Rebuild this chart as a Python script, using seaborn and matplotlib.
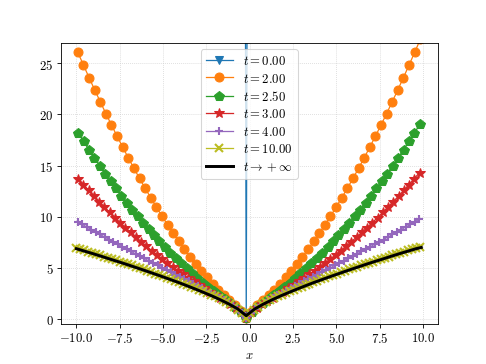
import numpy as np
import matplotlib
matplotlib.use("Agg")
import matplotlib.pyplot as plt
import seaborn as sns

# ---------------- data ----------------
blue_x = [-10.0, -0.52, -0.2, 0.12, 10.0]
blue_y = [200.0, 200.0, 0.0, 200.0, 200.0]

orange_x = np.linspace(-9.92, 9.844, 62)
orange_y = [26.09, 24.85, 23.62, 22.42, 21.25, 20.09, 18.97, 17.87, 16.80, 15.75,
            14.73, 13.74, 12.77, 11.84, 10.93, 10.04, 9.19, 8.37, 7.57, 6.81,
            6.07, 5.37, 4.69, 4.05, 3.44, 2.86, 2.31, 1.80, 1.31, 0.75,
            0.10,
            0.75, 1.31, 1.80, 2.31, 2.86, 3.44, 4.05, 4.69, 5.37, 6.07,
            6.81, 7.57, 8.37, 9.19, 10.04, 10.93, 11.84, 12.77, 13.74, 14.73,
            15.75, 16.80, 17.87, 18.97, 20.09, 21.25, 22.42, 23.62, 24.85, 26.09,
            27.36]

green_x = np.linspace(-9.903, 9.816, 64)
green_y = [18.19, 17.36, 16.55, 15.76, 14.98, 14.22, 13.48, 12.76, 12.05, 11.36,
           10.69, 10.04, 9.40, 8.78, 8.18, 7.60, 7.03, 6.48, 5.95, 5.44,
           4.94, 4.46, 4.00, 3.55, 3.12, 2.71, 2.31, 1.92, 1.55, 1.12, 0.68,
           0.10,
           0.68, 1.12, 1.55, 1.92, 2.31, 2.71, 3.12, 3.55, 4.00, 4.46,
           4.94, 5.44, 5.95, 6.48, 7.03, 7.60, 8.18, 8.78, 9.40, 10.04,
           10.69, 11.36, 12.05, 12.76, 13.48, 14.22, 14.98, 15.76, 16.55, 17.36,
           18.19, 19.03]

red_x = np.linspace(-9.896, 9.799, 66)
red_y = [13.73, 13.14, 12.57, 12.01, 11.47, 10.94, 10.41, 9.90, 9.41, 8.92,
         8.45, 7.99, 7.54, 7.10, 6.67, 6.26, 5.86, 5.46, 5.08, 4.71,
         4.34, 3.99, 3.65, 3.32, 2.98, 2.66, 2.35, 2.05, 1.73, 1.42, 1.05, 0.65,
         0.10,
         0.65, 1.05, 1.42, 1.73, 2.05, 2.35, 2.66, 2.98, 3.32, 3.65,
         3.99, 4.34, 4.71, 5.08, 5.46, 5.86, 6.26, 6.67, 7.10, 7.54,
         7.99, 8.45, 8.92, 9.41, 9.90, 10.41, 10.94, 11.47, 12.01, 12.57,
         13.14, 13.73, 14.31]

purple_x = np.linspace(-9.909, 9.7645, 78)
purple_y = [9.48, 9.23, 8.98, 8.73, 8.49, 8.25, 8.01, 7.76, 7.53, 7.29,
            7.05, 6.82, 6.59, 6.36, 6.13, 5.90, 5.67, 5.44, 5.22, 4.99,
            4.77, 4.55, 4.32, 4.10, 3.88, 3.65, 3.43, 3.21, 2.98, 2.75,
            2.53, 2.29, 2.06, 1.81, 1.57, 1.30, 0.98, 0.60,
            0.10,
            0.60, 0.98, 1.30, 1.57, 1.81, 2.06, 2.29, 2.53, 2.75, 2.98,
            3.21, 3.43, 3.65, 3.88, 4.10, 4.32, 4.55, 4.77, 4.99, 5.22,
            5.44, 5.67, 5.90, 6.13, 6.36, 6.59, 6.82, 7.05, 7.29, 7.53,
            7.76, 8.01, 8.25, 8.49, 8.73, 8.98, 9.23, 9.48, 9.73]

yellow_x = np.linspace(-10.004, 9.832, 88)
yellow_y = [6.92, 6.81, 6.69, 6.57, 6.45, 6.33, 6.21, 6.09, 5.97, 5.85,
            5.72, 5.60, 5.47, 5.35, 5.22, 5.09, 4.96, 4.83, 4.70, 4.56,
            4.43, 4.29, 4.15, 4.02, 3.88, 3.73, 3.59, 3.44, 3.29, 3.14,
            2.99, 2.83, 2.67, 2.51, 2.35, 2.18, 2.00, 1.82, 1.63, 1.42,
            1.16, 0.88, 0.55,
            0.10,
            0.55, 0.88, 1.16, 1.42, 1.63, 1.82, 2.00, 2.18, 2.35, 2.51,
            2.67, 2.83, 2.99, 3.14, 3.29, 3.44, 3.59, 3.73, 3.88, 4.02,
            4.15, 4.29, 4.43, 4.56, 4.70, 4.83, 4.96, 5.09, 5.22, 5.35,
            5.47, 5.60, 5.72, 5.85, 5.97, 6.09, 6.21, 6.33, 6.45, 6.57,
            6.69, 6.81, 6.92, 7.04]

black_x = list(np.linspace(-10.0, 9.6, 41)) + [9.9]
black_y = [6.86, 6.61, 6.36, 6.10, 5.83, 5.57, 5.30, 5.02, 4.74, 4.45,
           4.16, 3.86, 3.56, 3.24, 2.91, 2.57, 2.22, 1.84, 1.43, 0.96,
           0.30,
           0.96, 1.43, 1.84, 2.22, 2.57, 2.91, 3.24, 3.56, 3.86, 4.16,
           4.45, 4.74, 5.02, 5.30, 5.57, 5.83, 6.10, 6.36, 6.61, 6.86,
           6.98]

labels = [r"$t = 0.00$", r"$t = 2.00$", r"$t = 2.50$", r"$t = 3.00$",
          r"$t = 4.00$", r"$t = 10.00$", r"$t \to +\infty$"]

# ---------------- style ----------------
plt.rcParams.update({
    "font.family": "serif",
    "font.serif": ["cmr10"],
    "mathtext.fontset": "cm",
    "axes.formatter.use_mathtext": True,
    "axes.unicode_minus": True,
    "font.size": 12,
})

fig, ax = plt.subplots(figsize=(6.4, 4.8), dpi=76)

series = [
    (blue_x, blue_y, "C0", "v", 8, 1.0, 1.2),
    (orange_x, orange_y, "C1", "o", 8.5, 1.0, 1.2),
    (green_x, green_y, "C2", "p", 9, 1.0, 1.2),
    (red_x, red_y, "C3", "*", 10, 1.0, 1.2),
    (purple_x, purple_y, "C4", "+", 8.5, 2.0, 1.2),
    (yellow_x, yellow_y, "C8", "x", 7, 2.0, 1.2),
]
for (xs, ys, col, mk, ms, mew, lw), lab in zip(series, labels[:-1]):
    sns.lineplot(x=list(xs), y=ys, ax=ax, color=col, marker=mk, markersize=ms,
                 markeredgecolor=col, markeredgewidth=mew, linewidth=lw,
                 label=lab, sort=False, estimator=None)

sns.lineplot(x=black_x, y=black_y, ax=ax, color="black", linewidth=2.8,
             label=labels[-1], sort=False, estimator=None)

ax.set_xlim(-10.9, 10.85)
ax.set_ylim(-0.5, 27.0)
ax.set_xticks([-10, -7.5, -5, -2.5, 0, 2.5, 5, 7.5, 10])
ax.set_yticks([0, 5, 10, 15, 20, 25])
ax.grid(True, linestyle=":", color="0.8", linewidth=0.7)
ax.set_xlabel(r"$x$")
ax.set_ylabel("")
ax.legend(loc="upper center", fontsize=12, labelspacing=0.35,
          handlelength=2.1, borderpad=0.4)

fig.savefig("out.png", dpi=76)
